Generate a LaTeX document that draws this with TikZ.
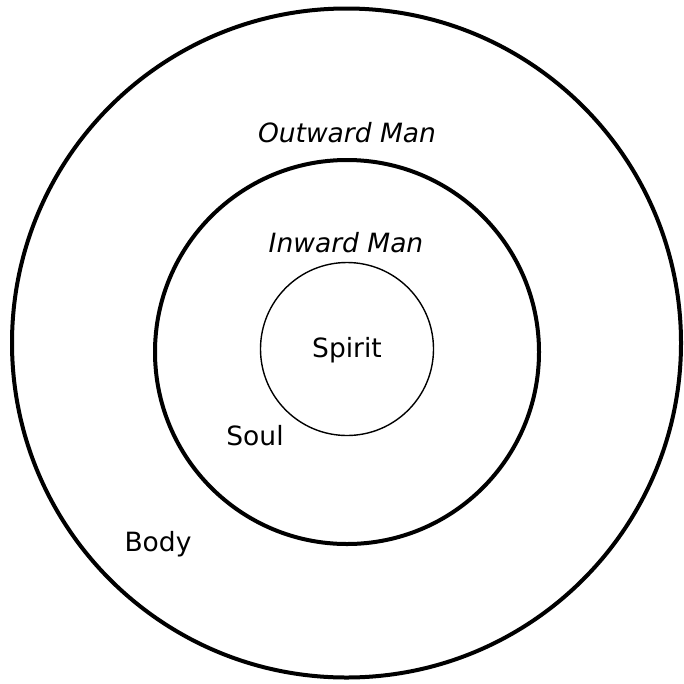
\documentclass[tikz,border=0pt]{standalone}
\usepackage{fontspec}
\setmainfont{DejaVu Sans}
\begin{document}
\begin{tikzpicture}[x=1pt,y=-1pt,
  ring/.style={draw=black,line width=4pt},
  thinring/.style={draw=black,line width=1.4pt},
  lbl/.style={anchor=base,inner sep=0pt,font=\fontsize{26.5}{31}\selectfont},
  ilbl/.style={lbl,font=\fontsize{26.5}{31}\selectfont\itshape}]
\useasboundingbox (0,0) rectangle (684,683);
\path[ring] (346.5,343) circle[radius=334.5];
\path[ring] (347,352) circle[radius=192];
\path[thinring] (347,349) circle[radius=86.5];
\node[ilbl] (outward) at (347,142) {Outward Man};
\node[ilbl] (inward) at (346,252) {Inward Man};
\node[lbl] (spirit) at (347,357) {Spirit};
\node[lbl] (soul) at (255,445) {Soul};
\node[lbl] (body) at (158,551) {Body};
\end{tikzpicture}
\end{document}
